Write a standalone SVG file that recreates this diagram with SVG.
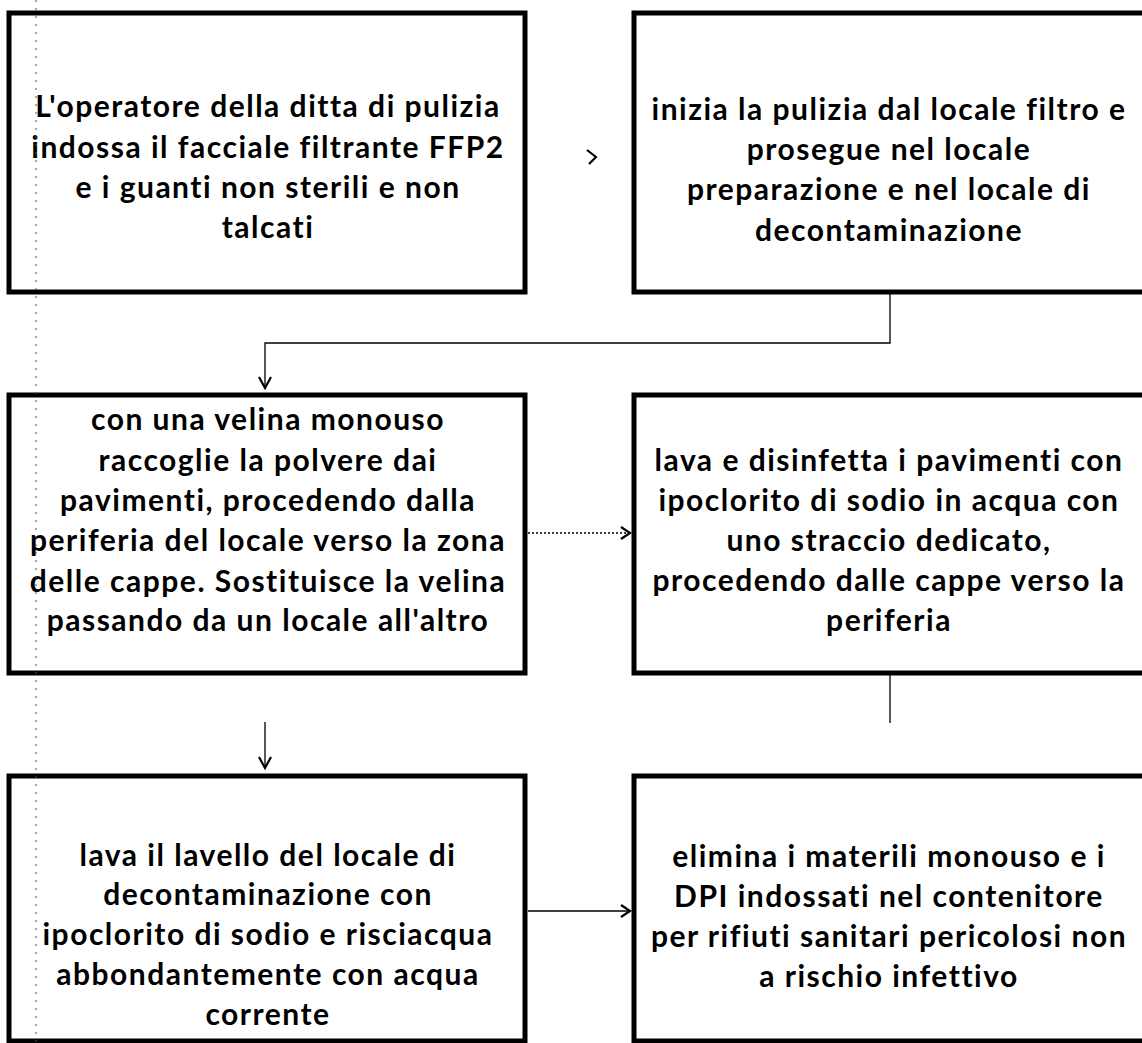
<svg xmlns="http://www.w3.org/2000/svg" width="1142" height="1043" viewBox="0 0 1142 1043">
<style>
.box{fill:#fff;stroke:#000;stroke-width:5}
.t{font-family:Lato,"Open Sans","Liberation Sans",sans-serif;font-weight:700;font-size:30px;letter-spacing:1.5px;font-variant-ligatures:none;font-feature-settings:"liga" 0,"dlig" 0;fill:#000;text-anchor:middle}
.ln{fill:none;stroke:#000;stroke-width:1.3}
.dot{fill:none;stroke:#000;stroke-width:1.3;stroke-dasharray:2 2}
.hd{fill:none;stroke:#000;stroke-width:2.2}
.scan{fill:none;stroke:#555;stroke-width:1;stroke-dasharray:2 6}
</style>
<rect width="1142" height="1043" fill="#fff"/>
<g id="n1">
<rect class="box" x="9" y="13" width="516" height="279"/>
<text class="t" x="268" y="117">L'operatore della ditta di pulizia</text>
<text class="t" x="268" y="158">indossa il facciale  filtrante FFP2</text>
<text class="t" x="268" y="198">e i guanti non sterili e non</text>
<text class="t" x="268" y="238">talcati</text>
</g>
<g id="n2">
<rect class="box" x="634" y="13" width="520" height="279"/>
<text class="t" x="889" y="120">inizia la pulizia dal locale filtro e</text>
<text class="t" x="889" y="160">prosegue nel locale</text>
<text class="t" x="889" y="200">preparazione e nel locale di</text>
<text class="t" x="889" y="241">decontaminazione</text>
</g>
<g id="n3">
<rect class="box" x="9" y="395" width="516" height="278"/>
<text class="t" x="268" y="430">con una velina monouso</text>
<text class="t" x="268" y="471">raccoglie la polvere dai</text>
<text class="t" x="268" y="511">pavimenti, procedendo dalla</text>
<text class="t" x="268" y="551">periferia del locale verso la zona</text>
<text class="t" x="268" y="592">delle cappe. Sostituisce la velina</text>
<text class="t" x="268" y="631">passando da un locale all'altro</text>
</g>
<g id="n4">
<rect class="box" x="634" y="395" width="520" height="278"/>
<text class="t" x="889" y="471">lava e disinfetta i pavimenti con</text>
<text class="t" x="889" y="511">ipoclorito di sodio in acqua con</text>
<text class="t" x="889" y="551">uno straccio dedicato,</text>
<text class="t" x="889" y="591">procedendo dalle cappe verso la</text>
<text class="t" x="889" y="631">periferia</text>
</g>
<g id="n5">
<rect class="box" x="9" y="776" width="516" height="265"/>
<text class="t" x="268" y="866">lava il lavello del locale di</text>
<text class="t" x="268" y="905">decontaminazione con</text>
<text class="t" x="268" y="945">ipoclorito di sodio e risciacqua</text>
<text class="t" x="268" y="985">abbondantemente con acqua</text>
<text class="t" x="268" y="1025">corrente</text>
</g>
<g id="n6">
<rect class="box" x="634" y="776" width="520" height="265"/>
<text class="t" x="889" y="867">elimina i materili monouso e i</text>
<text class="t" x="889" y="907">DPI indossati nel contenitore</text>
<text class="t" x="889" y="947">per rifiuti sanitari pericolosi non</text>
<text class="t" x="889" y="987">a rischio infettivo</text>
</g>
<line class="scan" x1="36" y1="0" x2="36" y2="1043"/>
<g id="connectors">
<polyline class="hd" points="587,150 596,157 589,164"/>
<polyline class="ln" points="890,294 890,343 265,343 265,388"/>
<polyline class="hd" points="259,377 265,388 271,377"/>
<line class="dot" x1="528" y1="533" x2="629" y2="533"/>
<polyline class="hd" points="621,527 630,533 621,539"/>
<line class="ln" x1="890" y1="675" x2="890" y2="723"/>
<line class="ln" x1="265" y1="722" x2="265" y2="768"/>
<polyline class="hd" points="259,757 265,768 271,757"/>
<line class="ln" x1="528" y1="911" x2="629" y2="911"/>
<polyline class="hd" points="621,905 630,911 621,917"/>
</g>
</svg>
